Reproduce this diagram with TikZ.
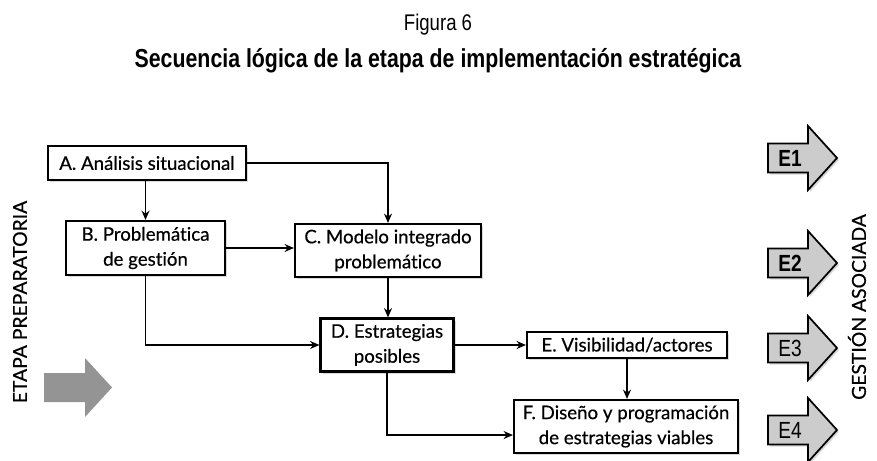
\documentclass[tikz,border=0pt]{standalone}
\usepackage{fontspec}
\setmainfont{Lato}[Ligatures=CommonOff]
\newfontfamily\boxfont{Lato}[Ligatures=CommonOff, FakeBold=0.5]
\newfontfamily\titlefont[FakeStretch=0.82]{Liberation Sans}
\usepackage{tikz}
\usetikzlibrary{positioning,arrows.meta,shadows}
\tikzset{boxnode/.style={rectangle, draw=black, fill=white, line width=1.6pt, inner sep=2pt, align=center,
    font=\boxfont\fontsize{14}{18.75}\selectfont, drop shadow={shadow xshift=1.8pt, shadow yshift=-1.8pt, opacity=0.3}},
  flecha/.style={line width=1pt, -{Stealth[length=7pt, width=6pt]}},
  earrow/.style={fill=black!20, draw=black, line width=1.3pt, line join=miter,
    drop shadow={shadow xshift=1.5pt, shadow yshift=-1.5pt, opacity=0.3}},}

\begin{document}
\begin{tikzpicture}[x=0.75pt, y=-0.75pt]
\useasboundingbox (0,0) rectangle (877,460);
% titulo
\node (fig) at (438,25) {\titlefont\fontsize{17}{20}\selectfont Figura 6};
\node (tit) at (438,61) {\titlefont\bfseries\fontsize{19.5}{22}\selectfont Secuencia lógica de la etapa de implementación estratégica};
% cajas
\node [boxnode, minimum width=148.5pt, minimum height=25.5pt] (a) at (147,163) {A. Análisis situacional};
\node [boxnode, minimum width=119.25pt, minimum height=40.5pt] (b) at (145.5,248) {B. Problemática\\de gestión};
\node [boxnode, minimum width=139.5pt, minimum height=39.75pt] (c) at (388,250.5) {C. Modelo integrado\\problemático};
\node [boxnode, minimum width=99.75pt, minimum height=39.75pt] (d) at (387,345) {D. Estrategias\\posibles};
\node [boxnode, minimum width=150pt, minimum height=19.5pt] (e) at (627,345) {E. Visibilidad/actores};
\node [boxnode, minimum width=168pt, minimum height=39.75pt] (f) at (626,426.5) {F. Diseño y programación\\de estrategias viables};
% conexiones
\draw[flecha] (b |- a.south) -- (b.north);
\draw[flecha] (a.east) -| (c.north);
\draw[flecha] (b.east) -- (b.east -| c.west);
\draw[flecha] (b.south) |- (d.west);
\draw[flecha] (c.south) -- (c.south |- d.north);
\draw[flecha] (d.east) -- (e.west);
\draw[flecha] (d.south) |- ([yshift=-6.4pt]f.west);
\draw[flecha] (e.south) -- (e.south |- f.north);
% etapas
\node [rotate=90, font=\boxfont\fontsize{14.5}{16}\selectfont] (prep) at (20,302) {ETAPA PREPARATORIA};
\node [rotate=90, font=\boxfont\fontsize{14.5}{16}\selectfont] (gest) at (857,307) {GESTIÓN ASOCIADA};
\fill[black!42] (44,373) -- (85,373) -- (85,358) -- (112,387.5) -- (85,417) -- (85,402) -- (44,402) -- cycle;
% flechas E
\foreach \lab/\cy/\ser in {E1/158/\bfseries, E2/263/\bfseries, E3/348/, E4/430/}{
  \draw[earrow] (768,\cy-14.5) -- (808,\cy-14.5) -- (808,\cy-32) -- (837,\cy) -- (808,\cy+32)
    -- (808,\cy+14.5) -- (768,\cy+14.5) -- cycle;
  \node (\lab) at (790,\cy) {\titlefont\ser\fontsize{17.5}{20}\selectfont \lab};
}
\end{tikzpicture}
\end{document}
